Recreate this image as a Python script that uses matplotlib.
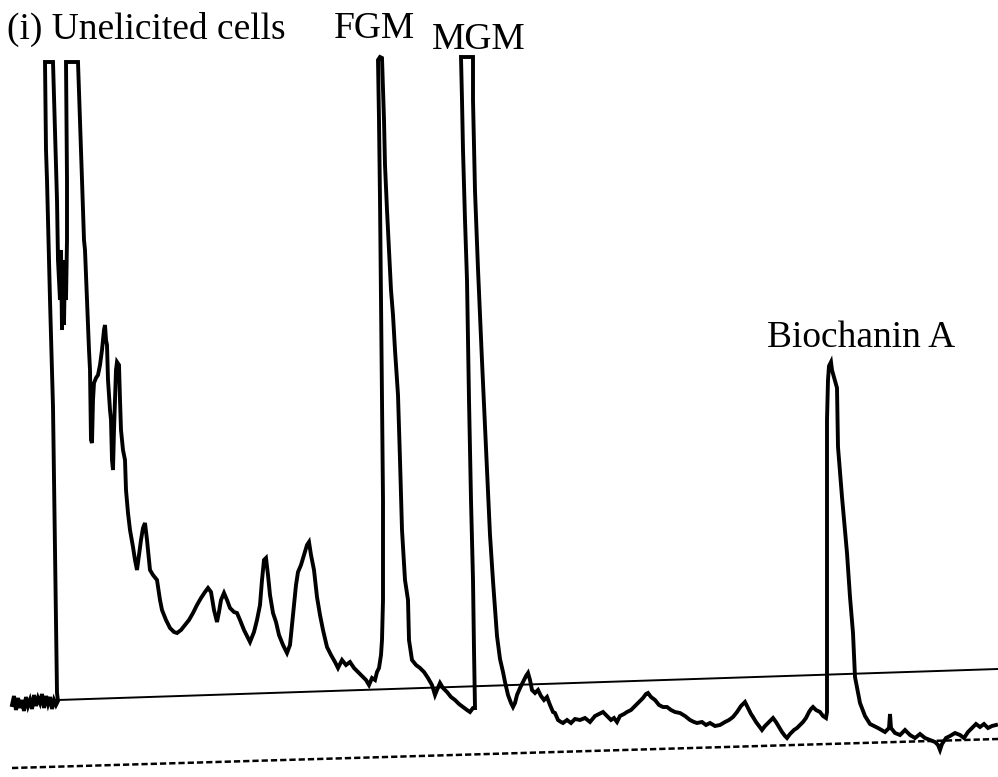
import numpy as np
import matplotlib
matplotlib.use("Agg")
import matplotlib.pyplot as plt

# chromatogram trace, as (position, depth) pairs; depth grows downwards
trace = [
    # flat noisy start
    (12, 705), (14, 696), (16, 710), (18, 698), (20, 708), (22, 700), (24, 711), (26, 697),
    (28, 706), (30, 700), (32, 709), (34, 695), (36, 706), (38, 698), (40, 703), (42, 694),
    (44, 708), (46, 696), (48, 704), (50, 697), (52, 709), (54, 700), (56, 705), (58, 701),
    # two off-scale solvent peaks
    (57, 693), (55, 550), (53, 407), (50, 300), (47, 180), (46, 150), (45, 62), (53, 62),
    (55, 130), (57, 200), (58, 260), (60, 300), (61, 250), (62, 330), (63, 270), (64, 325),
    (65, 260), (66, 300), (67, 240), (67, 180), (66, 62), (78, 62),
    (80, 120), (82, 180), (84, 240), (85, 250), (87, 300), (89, 350), (90, 370), (91, 440),
    (92, 443), (93, 400), (94, 383), (96, 378), (98, 375), (100, 365), (102, 350), (104, 330),
    (105, 325), (106, 340), (107, 345), (108, 380), (110, 410), (111, 420), (112, 460), (113, 470),
    (114, 430), (115, 400), (116, 370), (117, 362), (119, 365), (120, 400), (121, 430), (123, 450),
    (125, 460), (126, 490), (128, 513), (130, 530), (133, 547), (135, 560), (137, 570), (139, 555),
    (141, 540), (143, 528), (145, 523), (147, 540), (150, 570), (153, 575), (157, 580), (160, 600),
    (162, 610), (166, 620), (170, 628), (174, 632), (177, 633), (181, 630), (185, 625), (189, 620),
    (193, 613), (197, 605), (201, 598), (205, 592), (208, 588), (211, 592), (214, 610), (217, 622),
    (219, 612), (221, 600), (224, 593), (227, 600), (230, 608), (234, 612), (237, 613), (240, 620),
    (244, 630), (248, 638), (250, 642), (254, 632), (257, 620), (260, 605), (262, 580), (264, 560),
    (266, 558), (268, 575), (270, 595), (273, 613), (276, 622), (279, 635), (283, 645), (287, 653),
    (290, 645), (293, 615), (296, 585), (298, 572), (301, 565), (304, 555), (307, 545), (309, 542),
    (311, 555), (314, 570), (317, 597), (320, 615), (323, 630), (327, 647), (331, 655), (335, 662),
    (338, 668), (342, 660), (346, 665), (350, 662), (354, 668), (358, 672), (362, 676), (366, 680),
    (369, 685), (372, 678), (375, 680), (377, 672), (379, 668), (381, 655), (382, 640), (383, 600),
    # FGM
    (383, 500), (382, 400), (381, 300), (380, 200), (379, 120), (378, 60), (380, 57),
    (382, 58), (384, 120), (385, 165), (387, 210), (389, 250), (391, 290), (393, 315), (395, 350),
    (398, 395), (400, 460), (402, 530), (405, 580), (408, 600), (409, 640), (412, 660), (416, 665),
    (420, 668), (424, 672), (428, 678), (432, 685), (435, 695), (437, 690), (440, 683), (443, 688),
    (447, 692), (451, 697), (455, 700), (459, 704), (463, 707), (467, 710), (470, 712), (473, 708),
    # MGM
    (475, 708), (474, 650), (473, 580), (471, 500), (469, 400), (467, 280), (465, 220), (463, 150),
    (462, 100), (461, 57), (473, 57),
    (473, 100), (475, 191), (478, 269), (482, 361), (487, 471), (490, 535), (493, 581), (497, 636),
    (500, 659), (503, 672), (505, 682), (508, 695), (511, 703), (513, 707), (515, 703), (517, 695),
    (520, 688), (523, 682), (526, 676), (528, 673), (530, 680), (532, 690), (535, 693), (538, 690),
    (541, 696), (544, 700), (547, 697), (550, 705), (553, 712), (555, 713), (558, 720), (561, 722),
    (563, 723), (567, 720), (571, 723), (575, 719), (580, 720), (585, 718), (590, 722), (595, 716),
    (599, 714), (603, 712), (607, 716), (611, 720), (614, 718), (617, 722), (620, 716), (624, 714),
    (627, 712), (631, 710), (635, 706), (639, 702), (643, 698), (646, 694), (648, 693), (651, 697),
    (655, 700), (659, 705), (663, 707), (667, 707), (671, 710), (675, 712), (680, 713), (685, 716),
    (690, 720), (694, 722), (697, 723), (702, 722), (706, 725), (710, 723), (715, 726), (720, 725),
    (725, 722), (729, 720), (733, 717), (737, 712), (741, 706), (745, 702), (748, 708), (751, 714),
    (753, 717), (756, 722), (759, 726), (762, 730), (765, 726), (769, 722), (773, 718), (776, 722),
    (779, 727), (782, 732), (785, 736), (787, 738), (790, 734), (794, 730), (797, 728), (800, 725),
    (803, 722), (806, 718), (809, 712), (811, 709), (813, 707), (816, 710), (820, 712), (823, 716),
    (826, 718), (827, 712),
    # Biochanin A
    (827, 600), (827, 500), (827, 420), (828, 380), (829, 366), (831, 362), (832, 370),
    (837, 388), (838, 447), (842, 497), (847, 553), (850, 597), (853, 633), (855, 677), (860, 703),
    (865, 716), (870, 724), (878, 728), (885, 732), (889, 728), (890, 714), (891, 728), (895, 733),
    (900, 735), (905, 730), (910, 735), (915, 738), (920, 734), (925, 738), (930, 740), (935, 742),
    (938, 745), (940, 750), (942, 744), (946, 738), (950, 736), (955, 733), (960, 735), (964, 738),
    (968, 732), (972, 728), (976, 724), (980, 727), (984, 724), (988, 728), (992, 726), (996, 725),
]
trace_x = [p[0] for p in trace]
trace_y = [p[1] for p in trace]

# integration baseline and lower dashed reference line (end points)
base_x = [58, 998]
base_y = [700, 669]
ref_x = [12, 998]
ref_y = [768, 739]

labels = ["(i) Unelicited cells", "FGM", "MGM", "Biochanin A"]
label_x = [7, 334, 432, 767]
label_y = [39, 38, 49, 347]

fig = plt.figure(figsize=(9.98, 7.77), dpi=100)
ax = fig.add_axes([0, 0, 1, 1])
ax.set_xlim(0, 998)
ax.set_ylim(777, 0)
ax.axis("off")

ax.plot(trace_x, trace_y, color="black", linewidth=2.8, solid_joinstyle="miter")
ax.plot(base_x, base_y, color="black", linewidth=1.4)
ax.plot(ref_x, ref_y, color="black", linewidth=1.8, linestyle=(0, (2.5, 1.2)))

for t, x, y in zip(labels, label_x, label_y):
    ax.text(x, y, t, fontsize=27, family="Liberation Serif", ha="left", va="baseline")

fig.savefig("out.png", dpi=100, facecolor="white")
